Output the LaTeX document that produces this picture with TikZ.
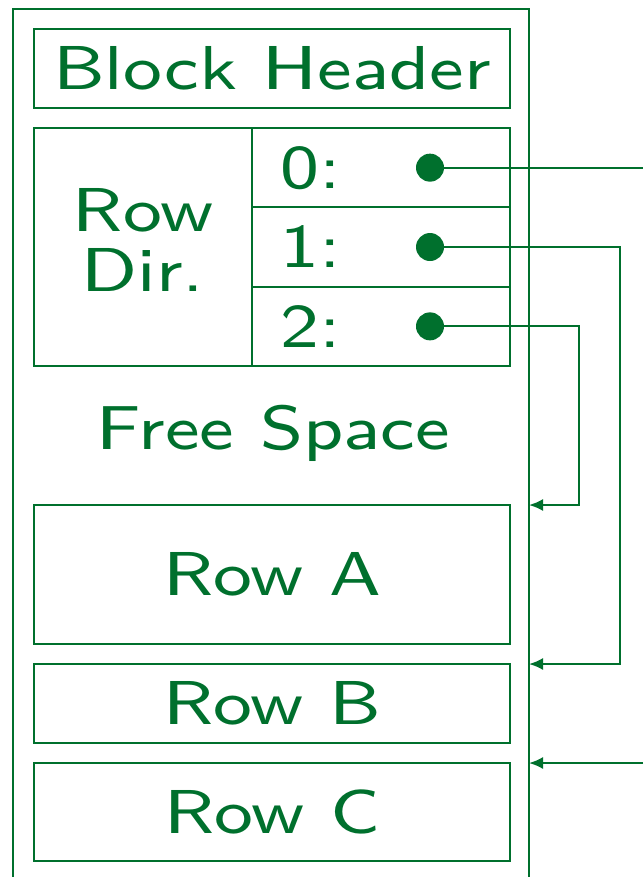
\documentclass[tikz,border=0pt]{standalone}
\usepackage{fontspec}
\usetikzlibrary{positioning,arrows.meta}
\newfontfamily\slidefont{lmsans8-regular.otf}[FakeStretch=1.18]
\definecolor{dkgreen}{RGB}{0,112,45}
\tikzset{
  row box/.style={
    draw,
    outer sep=0pt,
    minimum width=238pt,
    minimum height={#1},
  },
  slot box/.style={
    draw,
    outer sep=0pt,
    minimum width=129pt,
    minimum height=39.67pt,
  },
  slot dot/.style={
    circle, fill,
    inner sep=0pt,
    minimum size=14pt,
  },
  pointer/.style={
    -{Latex[length=7pt,width=6pt]},
  }
}

\begin{document}
\begin{tikzpicture}[x=0.5pt, y=-0.5pt, line width=1pt, color=dkgreen,
    font=\slidefont\fontsize{31}{30}\selectfont, node distance=10pt]
        \useasboundingbox (0,0) rectangle (643,877);
        \node [draw, outer sep=0pt, anchor=north, minimum width=258pt,
          minimum height=460pt] (block) at (271,9) {};

        \node [row box=39.5pt] (head) at (272,68.5) {Block Header};
        \node [draw, outer sep=0pt, anchor=north west, minimum width=109pt,
          minimum height=119pt] (rd) at ([yshift=-10pt]head.south west) {};
        \node [align=center] (rdlabel) at ([yshift=3.5pt]rd.center) {Row\\Dir.};
        \node [slot box, anchor=north west] (s0) at (rd.north east) {};
        \node [slot box, below=0pt of s0] (s1) {};
        \node [slot box, below=0pt of s1] (s2) {};

        \node (l0) at ([xshift=29.5pt]s0.west) {0:};
        \node (l1) at ([xshift=29.5pt]s1.west) {1:};
        \node (l2) at ([xshift=29.5pt]s2.west) {2:};
        \node [slot dot] (d0) at ([xshift=-40pt]s0.east) {};
        \node [slot dot] (d1) at ([xshift=-40pt]s1.east) {};
        \node [slot dot] (d2) at ([xshift=-40pt]s2.east) {};

        \node (free) at (273,433) {Free Space};
        \node [row box=69.5pt] (rowA) at (272,574.5) {Row A};
        \node [row box=39.5pt, below=of rowA] (rowB) {Row B};
        \node [row box=49pt, below=of rowB] (rowC) {Row C};

        % pointers from the row directory
        \coordinate (edge) at (643,0);
        \coordinate (out0) at (edge |- d0);
        \coordinate (in2) at (edge |- rowC.north);
        \draw (d0.center) -- (out0);
        \draw [pointer] (d1.center) -- ++(95pt,0) |- (block.east |- rowB.north);
        \draw [pointer] (d2.center) -- ++(74.5pt,0) |- (block.east |- rowA.north);
        \draw [pointer] (in2) -- (block.east |- rowC.north);
      \end{tikzpicture}
\end{document}
